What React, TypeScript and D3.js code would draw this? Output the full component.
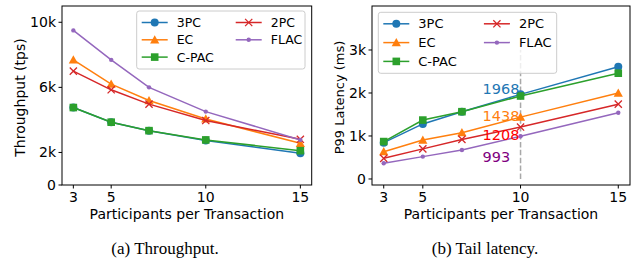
import React from "react";
import * as d3 from "d3";

const participants = [3, 5, 7, 10, 15];
const seriesNames = ["3PC", "EC", "C-PAC", "2PC", "FLAC"];
const colors = ["#1f77b4", "#ff7f0e", "#2ca02c", "#d62728", "#9467bd"];
const markers = ["circle", "triangle", "square", "x", "dot"];

// Throughput (tps)
const tput3PC = [4760, 3860, 3340, 2730, 1950];
const tputEC = [7690, 6200, 5190, 4060, 2560];
const tputCPAC = [4760, 3860, 3340, 2770, 2110];
const tput2PC = [7000, 5850, 4970, 3960, 2810];
const tputFLAC = [9500, 7690, 6000, 4510, 2770];

// P99 latency (ms)
const lat3PC = [845, 1280, 1565, 1968, 2610];
const latEC = [635, 907, 1077, 1438, 2000];
const latCPAC = [870, 1370, 1565, 1930, 2460];
const lat2PC = [480, 700, 920, 1208, 1740];
const latFLAC = [365, 520, 674, 993, 1540];

const xTicks = [3, 5, 10, 15];
const tputTicks = [0, 2000, 6000, 10000];
const tputTickLabels = ["0", "2k", "6k", "10k"];
const latTicks = [0, 1000, 2000, 3000];
const latTickLabels = ["0", "1k", "2k", "3k"];

const annotValues = [1968, 1438, 1208, 993];
const annotColors = ["#1f77b4", "#ff7f0e", "#ff0000", "#800080"];

const FONT = "DejaVu Sans, sans-serif";

function Marker({ type, x, y, color }: { type: string; x: number; y: number; color: string }) {
  if (type === "circle") return <circle cx={x} cy={y} r={4} fill={color} />;
  if (type === "square") return <rect x={x - 3.8} y={y - 3.8} width={7.6} height={7.6} fill={color} />;
  if (type === "triangle") {
    const s = 4.6;
    return <path d={`M${x},${y - s} L${x + s},${y + s * 0.8} L${x - s},${y + s * 0.8} Z`} fill={color} />;
  }
  if (type === "x") {
    const s = 3.6;
    return (
      <path d={`M${x - s},${y - s} L${x + s},${y + s} M${x - s},${y + s} L${x + s},${y - s}`} stroke={color} strokeWidth={1.3} fill="none" />
    );
  }
  return <circle cx={x} cy={y} r={2.2} fill={color} />;
}

type PanelProps = {
  left: number; right: number; top: number; bottom: number;
  yDomain: [number, number];
  series: number[][];
  yTicks: number[]; yTickLabels: string[];
  ylabel: string; ylabelX: number; ylabelSize: number;
  legend: { x: number; y: number; w: number; h: number; rowH: number; col2: number; fs: number };
  children?: (x: d3.ScaleLinear<number, number>, y: d3.ScaleLinear<number, number>) => React.ReactNode;
};

function Panel(p: PanelProps) {
  const x = d3.scaleLinear().domain([2.4, 15.6]).range([p.left, p.right]);
  const y = d3.scaleLinear().domain(p.yDomain).range([p.bottom, p.top]);
  const line = d3.line<number>().x((_, i) => x(participants[i])).y((d) => y(d));
  const lg = p.legend;
  return (
    <g>
      {p.children ? p.children(x, y) : null}
      {p.series.map((s, si) => (
        <g key={si}>
          <path d={line(s) || ""} fill="none" stroke={colors[si]} strokeWidth={1.5} />
          {s.map((v, i) => (
            <Marker key={i} type={markers[si]} x={x(participants[i])} y={y(v)} color={colors[si]} />
          ))}
        </g>
      ))}
      <rect x={p.left} y={p.top} width={p.right - p.left} height={p.bottom - p.top} fill="none" stroke="#000" strokeWidth={1} />
      {xTicks.map((t) => (
        <g key={t}>
          <line x1={x(t)} x2={x(t)} y1={p.bottom} y2={p.bottom + 3.5} stroke="#000" />
          <text x={x(t)} y={196.7} dy="0.36em" textAnchor="middle" fontSize={14} fontFamily={FONT}>{t}</text>
        </g>
      ))}
      {p.yTicks.map((t, i) => (
        <g key={t}>
          <line x1={p.left - 3.5} x2={p.left} y1={y(t)} y2={y(t)} stroke="#000" />
          <text x={p.left - 6} y={y(t)} dy="0.36em" textAnchor="end" fontSize={14} fontFamily={FONT}>{p.yTickLabels[i]}</text>
        </g>
      ))}
      <text transform={`translate(${p.ylabelX},${(p.top + p.bottom) / 2 + 2}) rotate(-90)`} textAnchor="middle" dy="0.36em" fontSize={p.ylabelSize} fontFamily={FONT}>{p.ylabel}</text>
      <text x={(p.left + p.right) / 2} y={213.5} dy="0.36em" textAnchor="middle" fontSize={14} fontFamily={FONT}>Participants per Transaction</text>
      <rect x={lg.x} y={lg.y} width={lg.w} height={lg.h} rx={2.5} fill="#fff" fillOpacity={0.8} stroke="#cccccc" strokeWidth={1} />
      {seriesNames.map((n, si) => {
        const col = si < 3 ? 0 : 1;
        const row = si < 3 ? si : si - 3;
        const hx = lg.x + 5 + col * lg.col2;
        const hy = lg.y + 11.5 + row * lg.rowH;
        return (
          <g key={n}>
            <line x1={hx} x2={hx + 26} y1={hy} y2={hy} stroke={colors[si]} strokeWidth={1.5} />
            <Marker type={markers[si]} x={hx + 13} y={hy} color={colors[si]} />
            <text x={hx + 35} y={hy} dy="0.36em" fontSize={lg.fs} fontFamily={FONT}>{n}</text>
          </g>
        );
      })}
    </g>
  );
}

export default function App() {
  return (
    <svg width={636} height={261} style={{ position: "absolute", left: 0, top: 0, background: "#fff" }}>
      <rect width={636} height={261} fill="#fff" />
      <Panel
        left={62} right={311.7} top={6} bottom={185}
        yDomain={[0, 11000]}
        series={[tput3PC, tputEC, tputCPAC, tput2PC, tputFLAC]}
        yTicks={tputTicks} yTickLabels={tputTickLabels}
        ylabel="Throughput (tps)" ylabelX={20} ylabelSize={14}
        legend={{ x: 136.7, y: 11, w: 168.3, h: 58, rowH: 17.3, col2: 94, fs: 12.5 }}
      />
      <Panel
        left={372} right={630} top={6} bottom={185}
        yDomain={[-140, 4023]}
        series={[lat3PC, latEC, latCPAC, lat2PC, latFLAC]}
        yTicks={latTicks} yTickLabels={latTickLabels}
        ylabel="P99 Latency (ms)" ylabelX={339.5} ylabelSize={13}
        legend={{ x: 378.3, y: 12.3, w: 178.4, h: 61, rowH: 18.8, col2: 100.6, fs: 13 }}
      >
        {(x, y) => (
          <g>
            <line x1={x(10)} x2={x(10)} y1={y(0)} y2={y(3000)} stroke="#a8a8a8" strokeWidth={1.5} strokeDasharray="5.5,2.4" />
          </g>
        )}
      </Panel>
      {annotValues.map((v, i) => (
        <text key={v} x={482.5} y={[88.8, 115.5, 134.7, 157][i]} dy="0.36em" fontSize={14.5} fill={annotColors[i]} fontFamily={FONT}>{v}</text>
      ))}
      <text x={165} y={248} dy="0.35em" textAnchor="middle" fontSize={17} fontFamily="Liberation Serif, serif">(a)  Throughput.</text>
      <text x={485} y={248} dy="0.35em" textAnchor="middle" fontSize={17} fontFamily="Liberation Serif, serif">(b)  Tail latency.</text>
    </svg>
  );
}
